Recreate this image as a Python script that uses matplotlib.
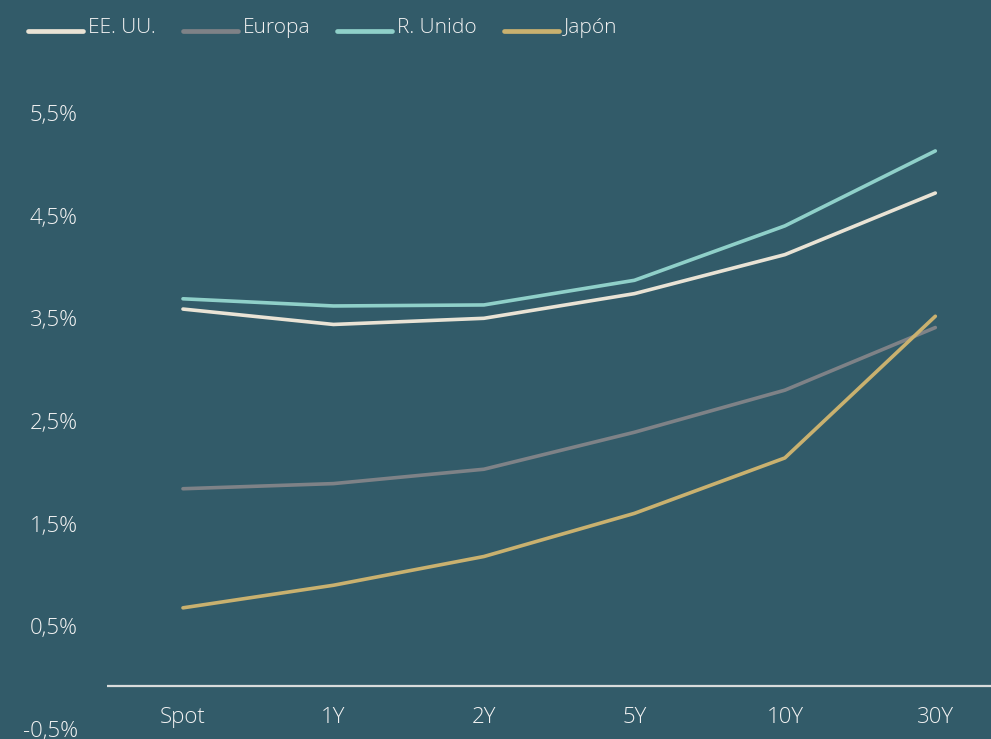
import matplotlib.pyplot as plt
from matplotlib.lines import Line2D

plt.rcParams['font.family'] = ['Open Sans', 'DejaVu Sans']

tenors = ['Spot', '1Y', '2Y', '5Y', '10Y', '30Y']
us = [3.59, 3.44, 3.50, 3.74, 4.12, 4.72]
europe = [1.84, 1.89, 2.03, 2.39, 2.80, 3.41]
uk = [3.69, 3.62, 3.63, 3.87, 4.40, 5.13]
japan = [0.68, 0.90, 1.18, 1.60, 2.14, 3.52]

series = [
    ('EE. UU.', us, '#e9e3d5'),
    ('Europa', europe, '#7e8287'),
    ('R. Unido', uk, '#8fd0c9'),
    ('Japón', japan, '#c9b16f'),
]
yticks = [-0.5, 0.5, 1.5, 2.5, 3.5, 4.5, 5.5]

bg = '#325b69'
txt = '#f2f2f2'

W, H = 991, 739
fig = plt.figure(figsize=(W / 100, H / 100), dpi=100)
fig.patch.set_facecolor(bg)
ax = fig.add_axes([107 / W, 10 / H, 884 / W, 1 - 10 / H])
ax.set_facecolor(bg)

x = list(range(len(tenors)))
for name, vals, col in series:
    ax.plot(x, vals, color=col, lw=2.6, solid_capstyle='round')

ax.set_xlim(-0.505, 5.37)
ax.set_ylim(-0.5, 6.6)
ax.axhline(-0.085, color='#d9dcdc', lw=1.6)

for s in ax.spines.values():
    s.set_visible(False)
ax.set_xticks([])
ax.set_yticks(yticks)
ax.set_yticklabels([f'{v:.1f}%'.replace('.', ',') for v in yticks])
ax.tick_params(axis='y', length=0, pad=21, labelsize=16, labelcolor=txt)
for lab in ax.get_yticklabels():
    lab.set_fontweight('light')

for i, t in enumerate(tenors):
    ax.text(i, -0.39, t, ha='center', va='center', fontsize=16,
            color=txt, fontweight='light')

# legend along the top: swatch sits on the text baseline
renderer = fig.canvas.get_renderer()
px = 28
for name, vals, col in series:
    fig.add_artist(Line2D([px / W, (px + 55) / W], [1 - 31 / H, 1 - 31 / H],
                          color=col, lw=3.4, solid_capstyle='round'))
    t = fig.text((px + 60) / W, 1 - 33 / H, name, fontsize=15, color=txt,
                 fontweight='light', va='baseline', ha='left')
    px += 60 + t.get_window_extent(renderer).width + 27

fig.savefig('out.png', dpi=100, facecolor=bg)
